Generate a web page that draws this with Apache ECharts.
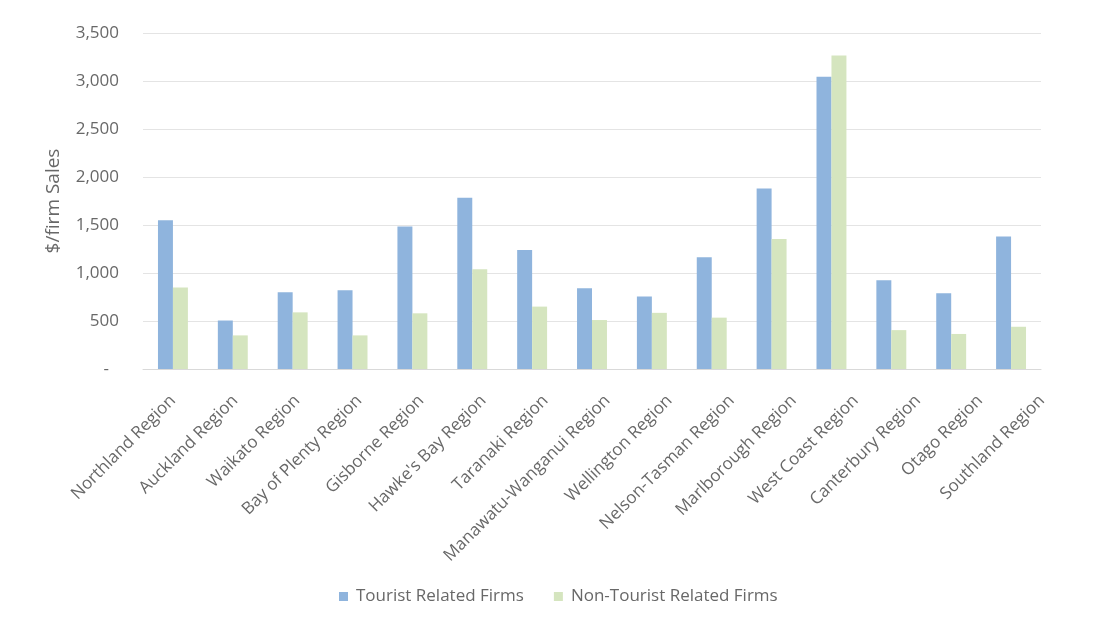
<!DOCTYPE html>
<html>
<head>
<meta charset="utf-8">
<script src="https://cdn.jsdelivr.net/npm/echarts@6/dist/echarts.min.js"></script>
<style>
  html, body { margin: 0; padding: 0; background: #fff; }
  #chart { width: 1093px; height: 620px; }
</style>
</head>
<body>
<div id="chart"></div>
<script>
// Regions of New Zealand
const regions = [
  'Northland Region', 'Auckland Region', 'Waikato Region', 'Bay of Plenty Region',
  'Gisborne Region', "Hawke's Bay Region", 'Taranaki Region', 'Manawatu-Wanganui Region',
  'Wellington Region', 'Nelson-Tasman Region', 'Marlborough Region', 'West Coast Region',
  'Canterbury Region', 'Otago Region', 'Southland Region'
];

// $/firm sales
const touristRelated = [1550, 505, 800, 820, 1485, 1785, 1240, 840, 755, 1165, 1880, 3045, 925, 790, 1380];
const nonTouristRelated = [850, 350, 590, 350, 580, 1040, 650, 510, 585, 535, 1355, 3265, 405, 365, 440];

const seriesNames = ['Tourist Related Firms', 'Non-Tourist Related Firms'];
const yTicks = { min: 0, max: 3500, interval: 500 };

const textColor = '#686868';
const fontFamily = '"Open Sans", "DejaVu Sans", sans-serif';

const chart = echarts.init(document.getElementById('chart'));
chart.setOption({
  animation: false,
  backgroundColor: '#ffffff',
  textStyle: { fontFamily: fontFamily, color: textColor },
  grid: [
    // plot area holding the bars
    { left: 143, right: 52, top: 33, bottom: 251, containLabel: false },
    // slightly wider band that carries the slanted region names
    { left: 142, right: 20, top: 33, bottom: 251, containLabel: false }
  ],
  legend: {
    data: seriesNames,
    top: 583,
    left: 334,
    itemWidth: 9,
    itemHeight: 9,
    itemGap: 30,
    icon: 'rect',
    textStyle: { color: textColor, fontSize: 17, fontFamily: fontFamily, padding: [0, 0, 0, 3] }
  },
  xAxis: [
    {
      type: 'category',
      gridIndex: 0,
      data: regions,
      axisLine: { show: true, lineStyle: { color: '#d9d9d9', width: 1 } },
      axisTick: { show: false },
      axisLabel: { show: false }
    },
    {
      type: 'category',
      gridIndex: 1,
      data: regions,
      axisLine: { show: false },
      axisTick: { show: false },
      splitLine: { show: false },
      axisLabel: {
        interval: 0,
        rotate: 45,
        margin: 29,
        color: textColor,
        fontSize: 17,
        fontFamily: fontFamily
      }
    }
  ],
  yAxis: [
    {
      type: 'value',
      gridIndex: 0,
      min: yTicks.min,
      max: yTicks.max,
      interval: yTicks.interval,
      name: '$/firm Sales',
      nameLocation: 'middle',
      nameGap: 80,
      nameRotate: 90,
      nameTextStyle: { color: textColor, fontSize: 19, fontFamily: fontFamily },
      axisLine: { show: false },
      axisTick: { show: false },
      splitLine: { lineStyle: { color: '#e4e4e4', width: 1 } },
      axisLabel: {
        margin: 24,
        color: textColor,
        fontSize: 17,
        fontFamily: fontFamily,
        formatter: function (v) {
          return v === 0 ? '{dash|-}' : v.toLocaleString('en-US');
        },
        rich: {
          dash: { color: textColor, fontSize: 17, padding: [0, 10, 0, 0] }
        }
      }
    },
    {
      type: 'value',
      gridIndex: 1,
      min: yTicks.min,
      max: yTicks.max,
      show: false,
      splitLine: { show: false }
    }
  ],
  series: [
    {
      name: seriesNames[0],
      type: 'bar',
      xAxisIndex: 0,
      yAxisIndex: 0,
      data: touristRelated,
      barGap: '0%',
      barCategoryGap: '50%',
      itemStyle: { color: '#8fb4dd' }
    },
    {
      name: seriesNames[1],
      type: 'bar',
      xAxisIndex: 0,
      yAxisIndex: 0,
      data: nonTouristRelated,
      itemStyle: { color: '#d5e5bf' }
    }
  ]
});
</script>
</body>
</html>
